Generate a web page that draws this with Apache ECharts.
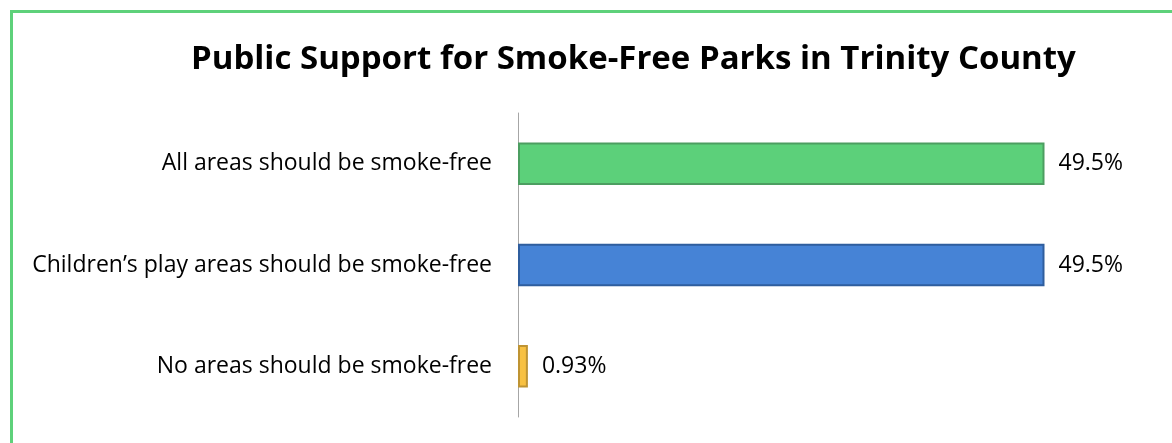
<!DOCTYPE html>
<html>
<head>
<meta charset="utf-8">
<script src="https://cdn.jsdelivr.net/npm/echarts@6/dist/echarts.min.js"></script>
<style>
  html, body { margin: 0; padding: 0; background: #fff; }
  #chart { width: 1172px; height: 443px; }
</style>
</head>
<body>
<div id="chart"></div>
<script>
// Survey answers, top to bottom
const categories = [
  'All areas should be smoke-free',
  'Children\u2019s play areas should be smoke-free',
  'No areas should be smoke-free'
];
const percentValues = [49.5, 49.5, 0.93];
const valueLabels = ['49.5%', '49.5%', '0.93%'];
const barFills = ['#5CD07A', '#4683D6', '#F8C142'];
const barEdges = ['#4C9E61', '#2F5E9E', '#BF9433'];

const FONT = '"Open Sans", sans-serif';

const chart = echarts.init(document.getElementById('chart'), null, { renderer: 'canvas' });

chart.setOption({
  backgroundColor: '#ffffff',
  animation: false,
  title: {
    text: 'Public Support for Smoke-Free Parks in Trinity County',
    left: 186,
    top: 38,
    textStyle: { fontFamily: FONT, fontWeight: 'bold', fontSize: 33, color: '#000' }
  },
  graphic: [{
    type: 'rect',
    shape: { x: 11.5, y: 11.5, width: 1200, height: 480 },
    style: { fill: 'none', stroke: '#5ED17A', lineWidth: 3 },
    silent: true
  }],
  grid: { left: 518, top: 113, width: 585, height: 304 },
  xAxis: {
    type: 'value',
    min: 0,
    max: 55,
    show: false
  },
  yAxis: {
    type: 'category',
    inverse: true,
    data: categories,
    axisLine: { show: true, lineStyle: { color: '#A6A6A6', width: 1 } },
    axisTick: { show: false },
    axisLabel: { margin: 26, fontFamily: FONT, fontSize: 23, color: '#000' }
  },
  series: [{
    type: 'bar',
    barCategoryGap: '58%',
    data: percentValues.map((v, i) => ({
      value: v,
      itemStyle: { color: barFills[i], borderColor: barEdges[i], borderWidth: 2 },
      label: { formatter: valueLabels[i] }
    })),
    label: {
      show: true,
      position: 'right',
      distance: 14,
      fontFamily: FONT,
      fontSize: 23,
      color: '#000'
    }
  }]
});
</script>
</body>
</html>
